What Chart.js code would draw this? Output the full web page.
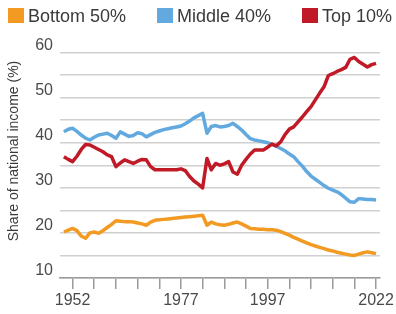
<!DOCTYPE html>
<html>
<head>
<meta charset="utf-8">
<script src="https://cdn.jsdelivr.net/npm/chart.js@4.4.1/dist/chart.umd.min.js"></script>
<style>
  html, body { margin: 0; padding: 0; background: #fff; }
  #wrap { width: 396px; height: 314px; }
</style>
</head>
<body>
<div id="wrap"><canvas id="incomeChart" width="396" height="314"></canvas></div>
<script>
const firstYear = 1950;
const tickYears = [1952, 1957, 1962, 1967, 1972, 1977, 1982, 1987, 1992, 1997, 2002, 2007, 2012, 2017, 2022];
const labelYears = [1952, 1977, 1997, 2022];
const yTitle = 'Share of national income (%)';

const bottom50 = [20.2, 20.6, 21.0, 20.5, 19.3, 18.8, 20.0, 20.2, 19.9, 20.5,
    21.2, 21.9, 22.7, 22.6, 22.5, 22.5, 22.4, 22.2, 22.0, 21.7,
    22.4, 22.8, 22.9, 23.0, 23.1, 23.2, 23.3, 23.4, 23.5, 23.6,
    23.7, 23.8, 23.9, 21.7, 22.4, 22.0, 21.8, 21.7, 21.9, 22.2,
    22.4, 22.0, 21.5, 21.0, 20.9, 20.8, 20.8, 20.7, 20.7, 20.6,
    20.3, 19.9, 19.5, 19.0, 18.6, 18.2, 17.8, 17.4, 17.1, 16.8,
    16.5, 16.2, 16.0, 15.7, 15.5, 15.3, 15.1, 15.0, 15.3, 15.6,
    15.8, 15.6, 15.4];
const middle40 = [42.4, 43.0, 43.2, 42.5, 41.7, 41.0, 40.6, 41.2, 41.7, 41.9,
    42.1, 41.6, 41.0, 42.4, 41.9, 41.4, 41.6, 42.2, 42.0, 41.3,
    41.8, 42.3, 42.6, 42.9, 43.1, 43.3, 43.5, 43.7, 44.2, 44.8,
    45.5, 46.0, 46.5, 42.1, 43.6, 43.8, 43.5, 43.6, 43.8, 44.3,
    43.6, 42.8, 41.8, 40.9, 40.6, 40.4, 40.2, 40.0, 39.6, 39.2,
    38.7, 38.2, 37.5, 36.9, 35.8, 34.8, 33.6, 32.6, 31.9, 31.2,
    30.5, 29.9, 29.5, 29.1, 28.5, 27.7, 26.9, 26.8, 27.6, 27.5,
    27.4, 27.4, 27.3];
const top10 = [36.9, 36.3, 35.8, 37.0, 38.5, 39.6, 39.5, 39.0, 38.5, 38.0,
    37.3, 36.9, 34.7, 35.5, 36.2, 35.8, 35.4, 35.9, 36.3, 36.2,
    34.7, 34.0, 34.0, 34.0, 34.0, 34.0, 34.0, 34.2, 33.8, 32.5,
    31.5, 30.8, 30.0, 36.5, 34.0, 35.4, 35.0, 35.3, 35.8, 33.5,
    33.0, 35.0, 36.3, 37.5, 38.4, 38.4, 38.4, 39.0, 39.7, 39.3,
    40.2, 41.8, 43.0, 43.5, 44.6, 45.7, 46.9, 48.0, 49.5, 51.0,
    52.4, 54.9, 55.3, 55.8, 56.2, 56.7, 58.5, 58.9, 58.0, 57.4,
    56.8, 57.3, 57.6];

const years = bottom50.map((v, i) => firstYear + i);

function points(values) {
    return values.map((v, i) => ({x: years[i], y: v}));
}

function series(label, values, color) {
    return {
        label: label,
        data: points(values),
        borderColor: color,
        backgroundColor: color,
        borderWidth: 3.5,
        pointRadius: 0,
        tension: 0,
        borderJoinStyle: 'round'
    };
}

const font = "'Liberation Sans', Arial, sans-serif";

// legend + rotated axis title, drawn by hand so they sit where the original has them
const labelsPlugin = {
    id: 'labels',
    afterDraw(chart) {
        const ctx = chart.ctx;
        const legendX = [8, 157, 302];
        const items = chart.data.datasets.slice().reverse();
        ctx.save();
        ctx.font = '18px ' + font;
        ctx.textBaseline = 'alphabetic';
        items.forEach((ds, i) => {
            ctx.fillStyle = ds.borderColor;
            ctx.fillRect(legendX[i], 8, 16, 15);
            ctx.fillStyle = '#3a3a3a';
            ctx.fillText(ds.label, legendX[i] + 20, 22);
        });

        ctx.translate(14, 151);
        ctx.rotate(-Math.PI / 2);
        ctx.font = '14px ' + font;
        ctx.textAlign = 'center';
        ctx.textBaseline = 'middle';
        ctx.fillStyle = '#3a3a3a';
        ctx.fillText(yTitle, 0, 0);
        ctx.restore();
    }
};

new Chart(document.getElementById('incomeChart'), {
    type: 'line',
    data: {
        // top 10% first so it's drawn on top
        datasets: [
            series('Top 10%', top10, '#c01a26'),
            series('Middle 40%', middle40, '#62a9e0'),
            series('Bottom 50%', bottom50, '#f29a22')
        ]
    },
    options: {
        responsive: false,
        animation: false,
        layout: {padding: {top: 52.5, right: 13, bottom: 0, left: 0}},
        plugins: {
            tooltip: {enabled: false},
            legend: {display: false}
        },
        scales: {
            x: {
                type: 'linear',
                min: 1949.1,
                max: 2022.9,
                afterBuildTicks: (scale) => {
                    scale.ticks = tickYears.map(v => ({value: v}));
                },
                afterFit: (scale) => { scale.height = 36; },
                grid: {
                    drawOnChartArea: false,
                    drawTicks: true,
                    tickLength: 11,
                    color: '#9a9a9a',
                    lineWidth: 1.5
                },
                border: {color: '#9a9a9a', width: 1.5},
                ticks: {
                    autoSkip: false,
                    maxRotation: 0,
                    padding: 2,
                    color: '#4a4a4a',
                    font: {family: font, size: 16},
                    callback: (v) => labelYears.includes(v) ? String(v) : ''
                }
            },
            y: {
                min: 10,
                max: 60,
                afterFit: (scale) => { scale.width = 60; },
                grid: {
                    drawTicks: false,
                    color: '#d0d0d0',
                    lineWidth: 1.5
                },
                border: {display: false},
                ticks: {
                    stepSize: 5,
                    padding: 7,
                    labelOffset: -7,
                    color: '#4a4a4a',
                    font: {family: font, size: 16},
                    callback: (v) => v % 10 === 0 ? String(v) : ''
                }
            }
        }
    },
    plugins: [labelsPlugin]
});
</script>
</body>
</html>
